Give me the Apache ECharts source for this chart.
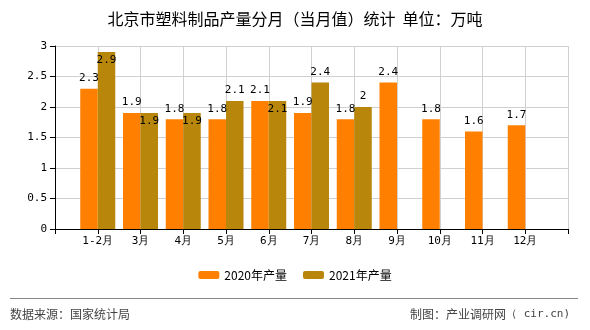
<!DOCTYPE html>
<html><head><meta charset="utf-8">
<script src="https://cdn.jsdelivr.net/npm/echarts@6/dist/echarts.min.js"></script>
<style>html,body{margin:0;padding:0;background:#fff}#c{width:590px;height:330px}</style>
</head><body><div id="c"></div>
<script>
var categories = ['', '1-2月', '3月', '4月', '5月', '6月', '7月', '8月', '9月', '10月', '11月', '12月', ''];
var values2020 = [null, 2.3, 1.9, 1.8, 1.8, 2.1, 1.9, 1.8, 2.4, 1.8, 1.6, 1.7, null];
var values2021 = [null, 2.9, 1.9, 1.9, 2.1, 2.1, 2.4, 2.0, null, null, null, null, null];
var yTicks = [0, 0.5, 1, 1.5, 2, 2.5, 3];

var labelFont = {fontFamily: 'DejaVu Sans Mono', fontSize: 11, color: '#000'};
var data2021 = values2021.map(function (v, i) {
  if (v == null) return null;
  var o = values2020[i];
  var inside = (o != null && v - o < 0.15) || v > 2.8;
  return {value: v, label: {position: inside ? 'insideTop' : 'top', distance: inside ? 3 : 5}};
});

var chart = echarts.init(document.getElementById('c'));
chart.setOption({
  animation: false,
  title: {
    text: '北京市塑料制品产量分月（当月值）统计  单位：万吨',
    left: 'center', top: 6,
    textStyle: {fontFamily: 'Noto Sans CJK SC', fontSize: 16, fontWeight: 'normal', color: '#000'}
  },
  legend: {
    bottom: 44, left: 'center', itemWidth: 21, itemHeight: 8, itemGap: 16,
    textStyle: {fontFamily: 'Noto Sans CJK SC', fontSize: 12, color: '#000'},
    data: ['2020年产量', '2021年产量']
  },
  graphic: [
    {type: 'line', shape: {x1: 10, y1: 298.5, x2: 578, y2: 298.5}, style: {stroke: '#888', lineWidth: 1}},
    {type: 'text', left: 10, top: 308, style: {text: '数据来源：国家统计局', fontFamily: 'Noto Sans CJK SC', fontSize: 12, fill: '#444'}},
    {type: 'text', right: 20, top: 308, style: {
      text: '{a|制图：产业调研网}{b|（ cir.cn)}',
      rich: {
        a: {fontFamily: 'Noto Sans CJK SC', fontSize: 12, fill: '#444'},
        b: {fontFamily: 'DejaVu Sans Mono', fontSize: 11, fill: '#444'}
      }
    }}
  ],
  grid: {left: 55, right: 22, top: 46, bottom: 101},
  xAxis: {
    type: 'category', data: categories, boundaryGap: false,
    axisLine: {lineStyle: {color: '#000'}},
    axisTick: {show: true, length: 5, lineStyle: {color: '#000'}},
    axisLabel: {fontFamily: 'DejaVu Sans Mono', fontSize: 11, color: '#000', margin: 7, interval: 0},
    splitLine: {show: true, lineStyle: {color: '#d0d0d0'}}
  },
  yAxis: {
    type: 'value', min: yTicks[0], max: yTicks[yTicks.length - 1], interval: 0.5,
    axisLine: {show: true, lineStyle: {color: '#000'}},
    axisTick: {show: true, length: 5, lineStyle: {color: '#000'}},
    axisLabel: {fontFamily: 'DejaVu Sans Mono', fontSize: 11, color: '#000', margin: 8},
    splitLine: {lineStyle: {color: '#d0d0d0'}}
  },
  series: [
    {name: '2020年产量', type: 'bar', data: values2020, barWidth: 17.5, barGap: '0%',
     itemStyle: {color: '#FF8000'},
     label: Object.assign({show: true, position: 'top', distance: 5}, labelFont)},
    {name: '2021年产量', type: 'bar', data: data2021, barWidth: 17.5,
     itemStyle: {color: '#B8860B'},
     label: Object.assign({show: true, position: 'top', distance: 5}, labelFont)}
  ]
});
</script></body></html>
